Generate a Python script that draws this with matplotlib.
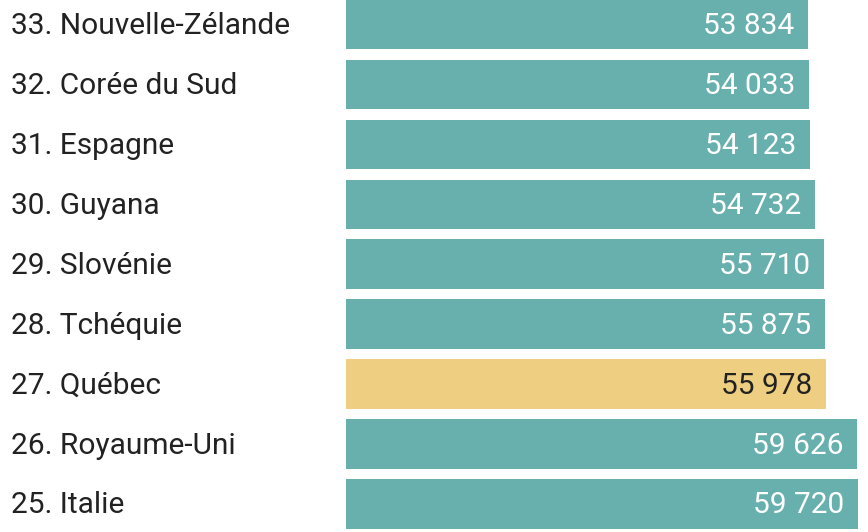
import matplotlib
matplotlib.use("Agg")
import matplotlib.pyplot as plt
import matplotlib.transforms as mtransforms

ranks = [33, 32, 31, 30, 29, 28, 27, 26, 25]
countries = ["Nouvelle-Zélande", "Corée du Sud", "Espagne", "Guyana", "Slovénie",
             "Tchéquie", "Québec", "Royaume-Uni", "Italie"]
values = [53834, 54033, 54123, 54732, 55710, 55875, 55978, 59626, 59720]
highlight = "Québec"

TEAL = "#68b0ae"
YELLOW = "#eecf81"
DARK = "#222222"

plt.rcParams["font.family"] = ["Roboto", "DejaVu Sans"]

W, H, DPI = 868, 532, 100
fig = plt.figure(figsize=(W / DPI, H / DPI), dpi=DPI)
ax = fig.add_axes([346 / W, 0, 512 / W, 1])
ax.set_axis_off()

n = len(values)
ypos = list(range(n))
colors = [YELLOW if c == highlight else TEAL for c in countries]
ax.barh(ypos, values, height=0.826, color=colors, align="center")
ax.set_xlim(0, max(values))
ax.set_ylim(8.469, -0.409)

fs = 21.5
base_off = mtransforms.ScaledTranslation(0, -9.6 / DPI, fig.dpi_scale_trans)
label_tr = mtransforms.blended_transform_factory(fig.transFigure, ax.transData) + base_off
val_tr = ax.transData + base_off + mtransforms.ScaledTranslation(-13.5 / DPI, 0, fig.dpi_scale_trans)

for y, r, c, v in zip(ypos, ranks, countries, values):
    ax.text(11 / W, y, f"{r}. {c}", transform=label_tr, ha="left", va="baseline",
            fontsize=fs, color=DARK, clip_on=False)
    txt = f"{v:,}".replace(",", " ")
    ax.text(v, y, txt, transform=val_tr, ha="right", va="baseline", fontsize=fs,
            color=DARK if c == highlight else "white", clip_on=False)

fig.savefig("out.png", dpi=DPI)
